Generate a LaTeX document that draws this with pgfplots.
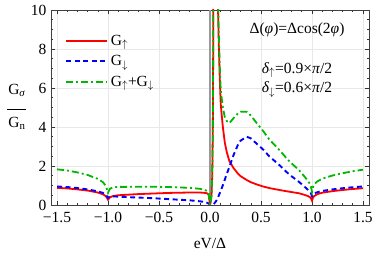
\documentclass[border=0pt]{standalone}
\usepackage{fontspec}
\setmainfont{Liberation Serif}
\usepackage{pgfplots}
\usepackage{pgfplotstable}
\pgfplotsset{compat=1.18}
\definecolor{cgreen}{rgb}{0,0.72,0}
\pgfplotstableread{
x r b g
-1.5 0.88 0.95 1.83
-1.4 0.85 0.92 1.77
-1.3 0.80 0.87 1.67
-1.2 0.74 0.80 1.54
-1.1 0.64 0.70 1.34
-1.05 0.55 0.62 1.17
-1.02 0.45 0.52 0.97
-1.0 0.27 0.36 0.63
-0.98 0.40 0.44 0.84
-0.95 0.46 0.44 0.90
-0.9 0.50 0.43 0.93
-0.8 0.53 0.40 0.93
-0.7 0.56 0.38 0.94
-0.6 0.58 0.36 0.94
-0.5 0.60 0.33 0.93
-0.4 0.62 0.30 0.92
-0.3 0.63 0.27 0.90
-0.2 0.64 0.24 0.88
-0.1 0.64 0.19 0.83
-0.05 0.62 0.15 0.77
-0.03 0.60 0.12 0.72
-0.015 0.55 0.08 0.63
-0.008 0.35 0.05 0.40
-0.003 0.12 0.02 0.14
0 0 0 0
0.005 0.1 0 0.1
0.015 0.5 0 0.5
0.022 1.5 0.01 1.51
0.028 4 0.02 4.02
0.032 9 0.03 9.03
0.036 16 0.05 16.05
0.045 22 0.1 22.1
0.06 18 0.2 18.2
0.075 11 0.35 11.35
0.085 8.5 0.47 8.97
0.095 6.6 0.6 7.2
0.105 5.2 0.72 5.92
0.115 4.6 0.86 5.46
0.125 4.05 1.0 5.05
0.145 3.2 1.3 4.5
0.165 2.7 1.6 4.3
0.19 2.25 1.95 4.2
0.23 1.9 2.55 4.45
0.275 1.6 3.1 4.7
0.3 1.48 3.3 4.78
0.36 1.28 3.5 4.78
0.4 1.17 3.42 4.59
0.45 1.07 3.18 4.25
0.52 0.95 2.85 3.8
0.58 0.87 2.5 3.37
0.68 0.77 2.05 2.82
0.745 0.71 1.72 2.43
0.78 0.68 1.55 2.23
0.874 0.6 1.18 1.78
0.92 0.53 0.97 1.5
0.96 0.46 0.78 1.24
0.98 0.4 0.67 1.07
0.99 0.34 0.6 0.94
1.0 0.22 0.45 0.67
1.01 0.38 0.55 0.93
1.02 0.45 0.6 1.05
1.05 0.55 0.65 1.2
1.1 0.63 0.72 1.35
1.2 0.71 0.8 1.51
1.3 0.77 0.86 1.63
1.4 0.82 0.91 1.73
1.5 0.86 0.95 1.81
}\data
\begin{document}
\begin{tikzpicture}[font=\fontsize{15.5}{18}\selectfont]
\useasboundingbox (-51pt,-48pt) rectangle (323pt,205pt);
\begin{axis}[
 at={(0,0)}, anchor=south west,
 scale only axis, width=318pt, height=195pt,
 xmin=-1.559, xmax=1.559, ymin=0, ymax=10,
 xtick={-1.5,-1,-0.5,0,0.5,1,1.5},
 xticklabels={−1.5,−1.0,−0.5,0.0,0.5,1.0,1.5},
 ytick={0,2,4,6,8,10},
 yticklabels={0,2,4,6,8,10},
 minor x tick num=4, minor y tick num=3,
 tick align=inside,
 major tick length=4pt, minor tick length=2.2pt,
 tick style={black!80, line width=0.6pt},
 grid=major, major grid style={gray!18, line width=0.5pt},
 axis line style={line width=0.8pt, black!75},
 xticklabel style={yshift=-4pt},
 yticklabel style={xshift=-1pt},
 xlabel={eV/Δ},
 xlabel style={at={(axis description cs:0.5,-0.195)}, anchor=center},
 ylabel={\begin{tabular}{@{}c@{}}G\textsubscript{\textit{σ}}\\[-2pt]\rule{19pt}{0.6pt}\\[-1pt]G\textsubscript{n}\end{tabular}},
 ylabel style={rotate=-90, at={(axis description cs:-0.107,0.503)}, anchor=center},
 legend style={draw=none, fill=none, at={(axis description cs:0.035,0.905)}, anchor=north west, nodes={inner xsep=2.6pt, inner ysep=4.3pt}},
 legend cell align=left,
 legend image code/.code={\draw[#1] (0pt,0pt) -- (41pt,0pt);},
]
\addplot[gray!80, line width=1.2pt, forget plot] coordinates {(0,0) (0,10)};
\addplot[red, line width=1.8pt] table[x=x, y=r] {\data};
\addlegendentry{G$_{\uparrow}$}
\addplot[blue, line width=1.9pt, dash pattern=on 5pt off 3.5pt] table[x=x, y=b] {\data};
\addlegendentry{G$_{\downarrow}$}
\addplot[cgreen, line width=1.8pt, dash pattern=on 7pt off 3pt on 2pt off 3pt] table[x=x, y=g] {\data};
\addlegendentry{G$_{\uparrow}$+G$_{\downarrow}$}
\node at (axis cs:0.853,8.97) {Δ(\textit{φ})=Δcos(2\textit{φ})};
\node at (axis cs:0.853,6.92) {\textit{δ}$_{\uparrow}$=0.9×\textit{π}/2};
\node at (axis cs:0.853,5.9) {\textit{δ}$_{\downarrow}$=0.6×\textit{π}/2};
\end{axis}
\end{tikzpicture}
\end{document}
